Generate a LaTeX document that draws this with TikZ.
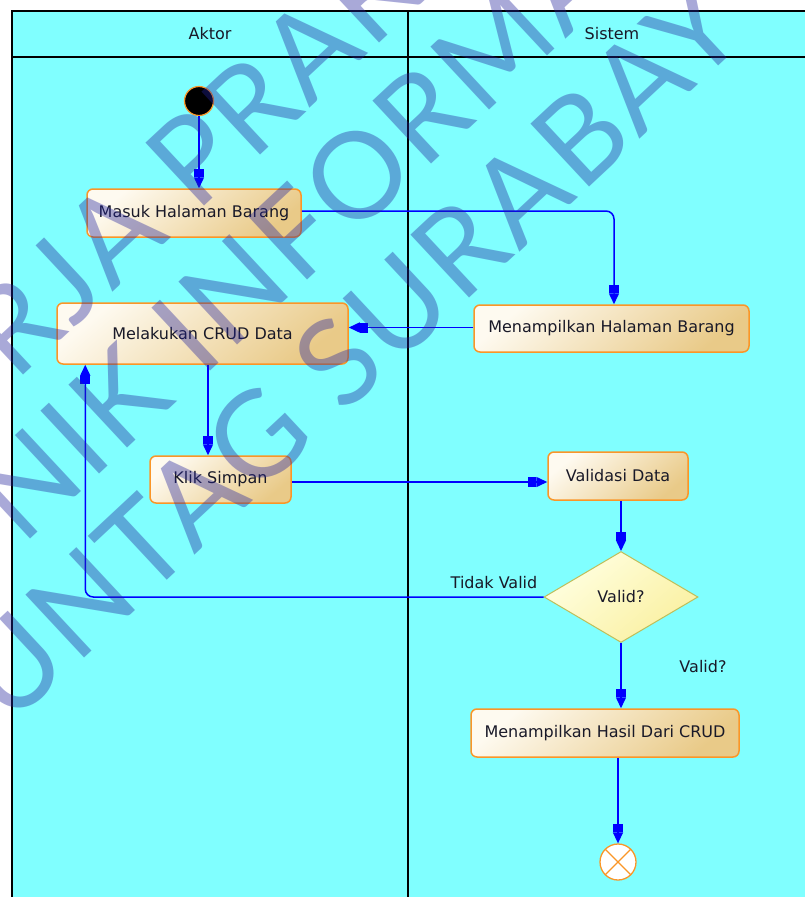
\documentclass[tikz,border=0pt]{standalone}
\usepackage{fontspec}
\setmainfont{DejaVu Sans}
\newfontfamily\wmfont{Lato-Regular.ttf}[LetterSpace=3]
\usetikzlibrary{arrows.meta,shapes.geometric,calc}
\definecolor{bgc}{RGB}{128,255,255}
\definecolor{flowc}{RGB}{0,0,255}
\definecolor{boxb}{RGB}{250,150,40}
\definecolor{boxA}{RGB}{254,250,240}
\definecolor{boxB}{RGB}{233,202,136}
\definecolor{diaA}{RGB}{255,255,225}
\definecolor{diaB}{RGB}{250,240,160}
\definecolor{diab}{RGB}{190,190,90}
\definecolor{txt}{RGB}{25,25,40}
\definecolor{wm}{RGB}{35,35,157}
\tikzset{
  frameline/.style={draw=black, line width=1.3pt},
  activity/.style={draw=boxb, line width=1.5pt, rounded corners=6pt,
    top color=boxA, bottom color=boxB, shading angle=40,
    inner sep=0pt, text=txt, font=\fontsize{16}{18}\selectfont},
  decision/.style={shape=diamond, draw=diab, line width=1pt,
    top color=diaA, bottom color=diaB, shading angle=40,
    minimum width=154pt, minimum height=91pt, inner sep=0pt,
    text=txt, font=\fontsize{16}{18}\selectfont},
  lbl/.style={inner sep=0pt, text=txt, font=\fontsize{16}{18}\selectfont},
  flow/.style={draw=flowc, line width=1.5pt,
    -{Rectangle[width=10pt,length=8pt]Triangle[width=10pt,length=11pt]}},
  startnode/.style={circle, fill=black, draw=boxb, line width=1.2pt, minimum size=29pt, inner sep=0pt},
  endnode/.style={circle, fill=white, draw=boxb, line width=1.3pt, minimum size=36pt, inner sep=0pt,
    path picture={\draw[boxb, line width=1.3pt]
      (path picture bounding box.north west) -- (path picture bounding box.south east)
      (path picture bounding box.north east) -- (path picture bounding box.south west);}},
  wmtext/.style={rotate=43, anchor=base west, inner sep=0pt, text=wm, text opacity=0.39,
    font=\wmfont\fontsize{120}{120}\selectfont}
}
\begin{document}
\begin{tikzpicture}[x=1pt,y=-1pt]
\useasboundingbox (0,0) rectangle (805,897);
\fill[white] (0,0) rectangle (805,897);
\fill[bgc] (12,11) rectangle (805,897);
\draw[frameline] (805,11) -- (12,11) -- (12,897);
\draw[frameline] (12,57) -- (805,57);
\draw[frameline] (408,11) -- (408,897);

\node[lbl] (hakt) at (210,34) {Aktor};
\node[lbl] (hsis) at (612,34) {Sistem};

\node[startnode] (start) at (199,101) {};
\node[activity, minimum width=214pt, minimum height=48pt] (masuk) at (194,213) {Masuk Halaman Barang};
\node[activity, minimum width=291pt, minimum height=61pt] (crud) at (202.5,333.5) {Melakukan CRUD Data};
\node[activity, minimum width=275pt, minimum height=47pt] (mhb) at (611.5,328.5) {Menampilkan Halaman Barang};
\node[activity, minimum width=141pt, minimum height=47pt] (klik) at (220.5,479.5) {Klik Simpan};
\node[activity, minimum width=140pt, minimum height=48pt] (val) at (618,476) {Validasi Data};
\node[decision] (dia) at (621,597) {Valid?};
\node[activity, minimum width=268pt, minimum height=48pt] (mhd) at (605,733) {Menampilkan Hasil Dari CRUD};
\node[endnode] (endc) at (618,862) {};

\node[lbl] (ltv) at (494,583) {Tidak Valid};
\node[lbl] (lv) at (703,667) {Valid?};

\draw[flow] (start) -- (start |- masuk.north);
\draw[flow, rounded corners=8pt] ([yshift=2pt]masuk.east) -| ([xshift=2.5pt]mhb.north);
\draw[flow] ([yshift=1pt]mhb.west) -- ([yshift=1pt]mhb.west -| crud.east);
\draw[flow] ([xshift=5.5pt]crud.south) -- ([xshift=5.5pt]crud.south |- klik.north);
\draw[flow] ([yshift=-2.5pt]klik.east) -- ([yshift=-2.5pt]klik.east -| val.west);
\draw[flow] (val.south -| dia.north) -- (dia.north);
\draw[flow, rounded corners=8pt] (dia.west) -| ([xshift=29pt]crud.south west);
\draw[flow] (dia.south) -- (dia.south |- mhd.north);
\draw[flow] (endc.north |- mhd.south) -- (endc.north);

\begin{scope}
\clip (0,0) rectangle (805,897);
\node[wmtext] (wm1) at (15.7,382.7) {RJA PRAK};
\node[wmtext] (wm2) at (22.1,546.2) {NIK INFORMA};
\node[wmtext] (wm3) at (8.9,728) {UNTAG SURABAY};
\end{scope}
\end{tikzpicture}
\end{document}
